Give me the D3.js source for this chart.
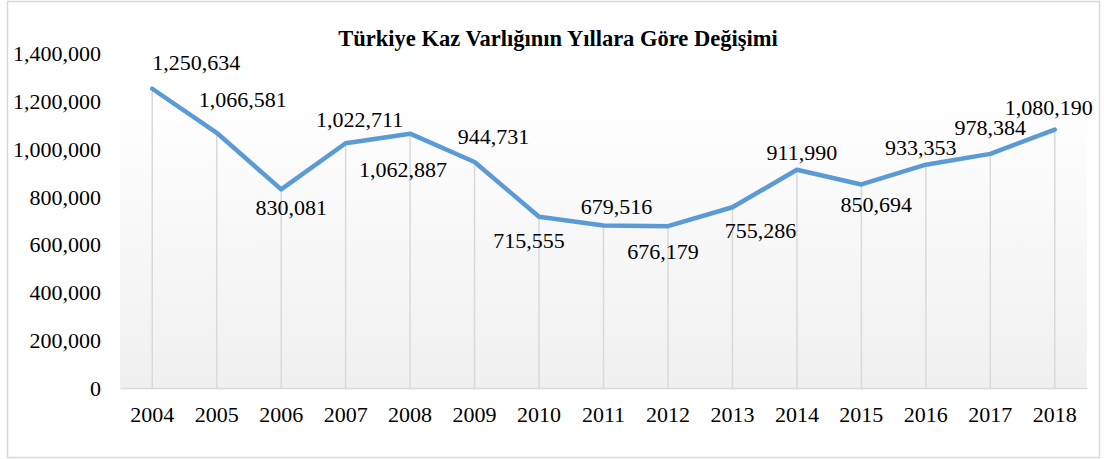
<!DOCTYPE html>
<html>
<head>
<meta charset="utf-8">
<script src="https://cdn.jsdelivr.net/npm/d3@7"></script>
</head>
<body style="margin:0;background:#fff">
<svg id="chart" width="1104" height="459" style="display:block"></svg>
<script>
// ---- data ----
const years = ["2004","2005","2006","2007","2008","2009","2010","2011","2012","2013","2014","2015","2016","2017","2018"];
const values = [1250634, 1066581, 830081, 1022711, 1062887, 944731, 715555, 679516, 676179, 755286, 911990, 850694, 933353, 978384, 1080190];
const yTicks = [0, 200000, 400000, 600000, 800000, 1000000, 1200000, 1400000];
const title = "Türkiye Kaz Varlığının Yıllara Göre Değişimi";
// label offsets from each point (layout only)
const labelDx = [44, 26, 10, 14, -7, 19, -10, 13, -5, 28, 5, 15, -5, 0, -6];
const labelDy = [-26, -33, 18, -24, 36, -25, 24, -19, 25, 23, -17, 20, -17, -26, -22];

// ---- layout ----
const FONT = '"Liberation Serif", "Times New Roman", serif';
const svg = d3.select("#chart");
const plot = { left: 120, right: 1087, top: 53, bottom: 388 };
const fmt = d3.format(",");

const x = d3.scaleBand().domain(years).range([plot.left, plot.right]);
const y = d3.scaleLinear().domain([0, 1400000]).range([plot.bottom, plot.top]);
const cx = d => x(d) + x.bandwidth() / 2;

// outer border
svg.append("rect").attr("x", 7.5).attr("y", 1.5).attr("width", 1092).attr("height", 456)
  .attr("fill", "#fff").attr("stroke", "#d9d9d9").attr("stroke-width", 1.5);

// gradient plot background
const defs = svg.append("defs");
const grad = defs.append("linearGradient").attr("id", "bg").attr("x1", 0).attr("y1", 0).attr("x2", 0).attr("y2", 1);
grad.append("stop").attr("offset", "0%").attr("stop-color", "#ffffff");
grad.append("stop").attr("offset", "12%").attr("stop-color", "#ffffff");
grad.append("stop").attr("offset", "100%").attr("stop-color", "#f0f0f0");
svg.append("rect").attr("x", plot.left).attr("y", plot.top)
  .attr("width", plot.right - plot.left).attr("height", plot.bottom - plot.top)
  .attr("fill", "url(#bg)");

// title
svg.append("text").attr("x", 558).attr("y", 38)
  .attr("text-anchor", "middle").attr("dominant-baseline", "central")
  .style("font-family", FONT).style("font-weight", "bold").style("font-size", "22.5px")
  .attr("fill", "#000").text(title);

// drop lines
svg.append("g").selectAll("line").data(years).join("line")
  .attr("x1", d => cx(d)).attr("x2", d => cx(d))
  .attr("y1", (d, i) => y(values[i])).attr("y2", plot.bottom)
  .attr("stroke", "#d9d9d9").attr("stroke-width", 1.5);

// x axis
const xAxis = svg.append("g").attr("transform", `translate(0,${plot.bottom})`)
  .call(d3.axisBottom(x).tickSize(0).tickPadding(0));
xAxis.select(".domain").attr("stroke", "#d9d9d9").attr("stroke-width", 1.5);
xAxis.selectAll("text").attr("dy", null).attr("y", 26).attr("dominant-baseline", "central")
  .style("font-family", FONT).style("font-size", "22px").attr("fill", "#000");

// y axis (labels only)
const yAxis = svg.append("g").attr("transform", `translate(101,0)`)
  .call(d3.axisLeft(y).tickValues(yTicks).tickFormat(fmt).tickSize(0).tickPadding(0));
yAxis.select(".domain").remove();
yAxis.selectAll("text").attr("dy", null).attr("x", 0).attr("dominant-baseline", "central")
  .style("font-family", FONT).style("font-size", "22px").attr("fill", "#000");

// line
const line = d3.line().x((d, i) => cx(years[i])).y(d => y(d));
svg.append("path").datum(values).attr("d", line)
  .attr("fill", "none").attr("stroke", "#5b9bd5").attr("stroke-width", 4.5)
  .attr("stroke-linejoin", "round").attr("stroke-linecap", "round");

// data labels
svg.append("g").selectAll("text").data(values).join("text")
  .attr("x", (d, i) => cx(years[i]) + labelDx[i])
  .attr("y", (d, i) => y(d) + labelDy[i])
  .attr("text-anchor", "middle").attr("dominant-baseline", "central")
  .style("font-family", FONT).style("font-size", "22px").attr("fill", "#000")
  .text(d => fmt(d));
</script>
</body>
</html>
